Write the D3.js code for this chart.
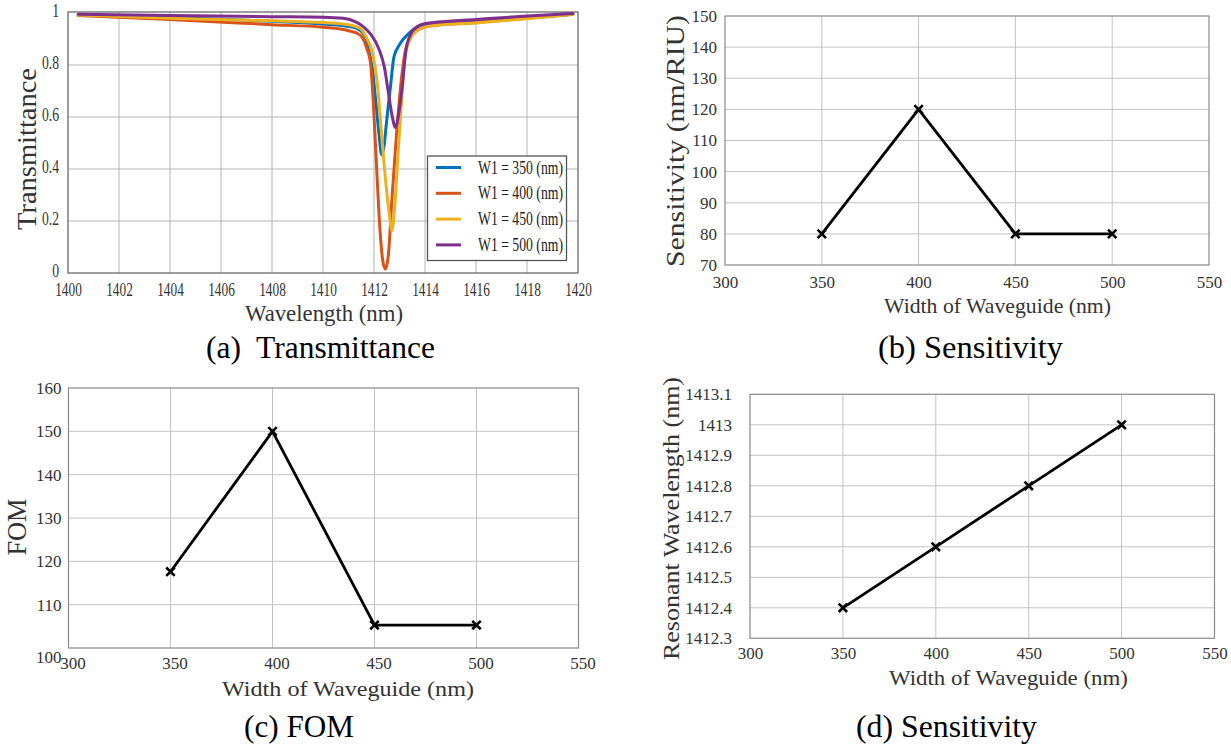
<!DOCTYPE html>
<html>
<head>
<meta charset="utf-8">
<script src="https://cdn.jsdelivr.net/npm/d3@7"></script>
<style>
  html, body { margin: 0; padding: 0; background: #fff; }
  svg, svg text { font-family: 'Liberation Serif', 'Times New Roman', Times, serif; }
</style>
</head>
<body>
<svg id="fig" width="1231" height="745"></svg>
<script>
const SERIF = "'Liberation Serif', 'Times New Roman', Times, serif";

// ---- (a) transmittance spectra ----
const wavelengthTicks = [1400, 1402, 1404, 1406, 1408, 1410, 1412, 1414, 1416, 1418, 1420];
const transTicks = [0, 0.2, 0.4, 0.6, 0.8, 1];
const seriesNames = ["W1 = 350 (nm)", "W1 = 400 (nm)", "W1 = 450 (nm)", "W1 = 500 (nm)"];
const seriesColors = ["#0072BD", "#D95319", "#EDB120", "#7E2F8E"];

const trans350 = [
  [1400.4, 0.992], [1404, 0.982], [1408, 0.968], [1410, 0.958], [1411.19, 0.945],
  [1411.59, 0.92], [1411.73, 0.877], [1411.93, 0.79], [1412.07, 0.66], [1412.2, 0.53],
  [1412.3, 0.455], [1412.41, 0.50], [1412.47, 0.56], [1412.65, 0.72], [1412.78, 0.83],
  [1413.01, 0.88], [1413.35, 0.92], [1413.82, 0.95], [1414.2, 0.955], [1416, 0.967],
  [1418, 0.982], [1419.8, 0.995]
];
const trans400 = [
  [1400.4, 0.99], [1404, 0.975], [1408, 0.955], [1410, 0.945], [1411, 0.932],
  [1411.46, 0.915], [1411.73, 0.86], [1411.86, 0.81], [1411.97, 0.66], [1412.07, 0.47],
  [1412.2, 0.22], [1412.34, 0.05], [1412.45, 0.015], [1412.57, 0.076], [1412.7, 0.28],
  [1412.88, 0.53], [1413.08, 0.75], [1413.22, 0.85], [1413.49, 0.915], [1413.82, 0.94],
  [1414.2, 0.95], [1416, 0.963], [1418, 0.98], [1419.8, 0.995]
];
const trans450 = [
  [1400.4, 0.992], [1404, 0.98], [1408, 0.97], [1410, 0.963], [1411, 0.955],
  [1411.46, 0.94], [1411.73, 0.90], [1411.93, 0.85], [1412.14, 0.72], [1412.3, 0.53],
  [1412.47, 0.34], [1412.61, 0.22], [1412.7, 0.163], [1412.81, 0.25], [1412.95, 0.47],
  [1413.08, 0.66], [1413.22, 0.83], [1413.42, 0.90], [1413.82, 0.94], [1414.2, 0.95],
  [1416, 0.962], [1418, 0.978], [1419.8, 0.995]
];
const trans500 = [
  [1400.4, 0.995], [1404, 0.99], [1408, 0.986], [1410, 0.984], [1410.8, 0.98],
  [1411.3, 0.965], [1411.59, 0.947], [1411.86, 0.92], [1412.2, 0.86], [1412.41, 0.79],
  [1412.57, 0.69], [1412.7, 0.61], [1412.84, 0.56], [1412.95, 0.60], [1413.11, 0.72],
  [1413.24, 0.85], [1413.42, 0.915], [1413.69, 0.947], [1414.03, 0.96], [1414.5, 0.965],
  [1416, 0.975], [1418, 0.988], [1419.8, 0.998]
];

// ---- (b)-(d) waveguide width sweeps ----
const widths = [350, 400, 450, 500];
const widthTicks = [300, 350, 400, 450, 500, 550];
const sensitivity = [80, 120, 80, 80];
const sensTicks = [70, 80, 90, 100, 110, 120, 130, 140, 150];
const fom = [117.6, 150, 105.3, 105.3];
const fomTicks = [100, 110, 120, 130, 140, 150, 160];
const resonance = [1412.4, 1412.6, 1412.8, 1413.0];
const resTicks = [1412.3, 1412.4, 1412.5, 1412.6, 1412.7, 1412.8, 1412.9, 1413.0, 1413.1];

const svg = d3.select("#fig");

// squeeze text horizontally to a given fraction of its natural width
function squeeze(sel, k) {
  sel.each(function () {
    const L = this.getComputedTextLength();
    d3.select(this).attr("textLength", L * k).attr("lengthAdjust", "spacingAndGlyphs");
  });
}
function fitWidth(sel, w) {
  sel.attr("textLength", w).attr("lengthAdjust", "spacingAndGlyphs");
}

// ================= panel (a) =================
(function () {
  const L = 68, R = 578, T = 12, B = 273;
  const x = d3.scaleLinear().domain([1400, 1420]).range([L, R]);
  const y = d3.scaleLinear().domain([0, 1]).range([B, T + 1]);
  const g = svg.append("g").attr("font-family", SERIF);

  // grid
  g.append("g").selectAll("line").data(wavelengthTicks.slice(1, -1)).join("line")
    .attr("x1", d => x(d)).attr("x2", d => x(d)).attr("y1", T).attr("y2", B)
    .attr("stroke", "#b4b4b4").attr("stroke-width", 1);
  g.append("g").selectAll("line").data(transTicks.slice(1, -1)).join("line")
    .attr("x1", L).attr("x2", R).attr("y1", d => y(d)).attr("y2", d => y(d))
    .attr("stroke", "#b4b4b4").attr("stroke-width", 1);

  // axes (labels only, frame drawn below)
  const xa = g.append("g").attr("transform", `translate(0,${B})`)
    .call(d3.axisBottom(x).tickValues(wavelengthTicks).tickSize(0).tickPadding(10).tickFormat(d3.format("d")));
  const ya = g.append("g").attr("transform", `translate(${L},0)`)
    .call(d3.axisLeft(y).tickValues(transTicks).tickSize(0).tickPadding(9).tickFormat(d => String(d)));
  [xa, ya].forEach(a => {
    a.attr("font-family", SERIF);
    a.select(".domain").remove();
    a.selectAll("text").attr("font-family", SERIF).attr("font-size", 18).attr("fill", "#333");
  });
  ya.selectAll("text").attr("dy", "0.2em");
  squeeze(xa.selectAll("text"), 0.74);
  squeeze(ya.selectAll("text"), 0.76);

  g.append("rect").attr("x", L).attr("y", T).attr("width", R - L).attr("height", B - T)
    .attr("fill", "none").attr("stroke", "#6a6a6a").attr("stroke-width", 1.3);

  // curves
  const line = d3.line().x(d => x(d[0])).y(d => y(d[1])).curve(d3.curveMonotoneX);
  const series = [trans350, trans400, trans450, trans500];
  g.append("g").selectAll("path").data(series).join("path")
    .attr("d", line).attr("fill", "none")
    .attr("stroke", (d, i) => seriesColors[i]).attr("stroke-width", 3)
    .attr("stroke-linejoin", "round").attr("stroke-linecap", "round");

  // legend
  const lg = g.append("g");
  lg.append("rect").attr("x", 427.5).attr("y", 156).attr("width", 139).attr("height", 104.5)
    .attr("fill", "#fff").attr("stroke", "#555").attr("stroke-width", 1.3);
  seriesNames.forEach((name, i) => {
    const yy = 167.5 + i * 25.8;
    lg.append("line").attr("x1", 436).attr("x2", 461).attr("y1", yy).attr("y2", yy)
      .attr("stroke", seriesColors[i]).attr("stroke-width", 3);
    lg.append("text").attr("x", 478).attr("y", yy).attr("dy", "0.34em")
      .attr("font-size", 18).attr("fill", "#222").text(name)
      .call(fitWidth, 85);
  });

  // titles
  g.append("text").attr("x", 324).attr("y", 321).attr("text-anchor", "middle")
    .attr("font-size", 24).attr("fill", "#333").text("Wavelength (nm)").call(fitWidth, 158);
  g.append("text").attr("transform", "translate(36,149) rotate(-90)").attr("text-anchor", "middle")
    .attr("font-size", 28).attr("fill", "#333").text("Transmittance").call(fitWidth, 162);
  g.append("text").attr("x", 206).attr("y", 358)
    .attr("font-size", 31).attr("fill", "#000").attr("xml:space", "preserve")
    .text("(a)  Transmittance").call(fitWidth, 229);
})();

// ================= panels (b)-(d) =================
function drawSweep(cfg) {
  const x = d3.scaleLinear().domain([300, 550]).range([cfg.L, cfg.R]);
  const y = d3.scaleLinear().domain(cfg.yDomain).range([cfg.B, cfg.T]);
  const g = svg.append("g").attr("font-family", SERIF);

  g.append("g").selectAll("line").data(widthTicks.slice(1, -1)).join("line")
    .attr("x1", d => x(d)).attr("x2", d => x(d)).attr("y1", cfg.T).attr("y2", cfg.B)
    .attr("stroke", "#c4c4c4").attr("stroke-width", 1);
  g.append("g").selectAll("line").data(cfg.yTicks.slice(1, -1)).join("line")
    .attr("x1", cfg.L).attr("x2", cfg.R).attr("y1", d => y(d)).attr("y2", d => y(d))
    .attr("stroke", "#c4c4c4").attr("stroke-width", 1);

  const xa = g.append("g").attr("transform", `translate(0,${cfg.B})`)
    .call(d3.axisBottom(x).tickValues(widthTicks).tickSize(0).tickPadding(cfg.xPad).tickFormat(d3.format("d")));
  const ya = g.append("g").attr("transform", `translate(${cfg.L},0)`)
    .call(d3.axisLeft(y).tickValues(cfg.yTicks).tickSize(0).tickPadding(cfg.yPad).tickFormat(d => String(d)));
  [xa, ya].forEach(a => {
    a.attr("font-family", SERIF);
    a.select(".domain").remove();
    a.selectAll("text").attr("font-family", SERIF).attr("font-size", 17).attr("fill", "#333");
  });
  ya.selectAll("text").attr("dy", "0.32em");
  if (cfg.xShift) xa.selectAll("text").attr("dx", cfg.xShift);
  if (cfg.lowLabelDrop) ya.selectAll(".tick").filter(d => d === cfg.yTicks[0]).select("text").attr("dy", cfg.lowLabelDrop);

  g.append("rect").attr("x", cfg.L).attr("y", cfg.T).attr("width", cfg.R - cfg.L).attr("height", cfg.B - cfg.T)
    .attr("fill", "none").attr("stroke", "#8a8a8a").attr("stroke-width", 1.2);

  const pts = widths.map((w, i) => [w, cfg.values[i]]);
  g.append("path").datum(pts)
    .attr("d", d3.line().x(d => x(d[0])).y(d => y(d[1])))
    .attr("fill", "none").attr("stroke", "#000").attr("stroke-width", 2.8).attr("stroke-linejoin", "round");
  const cross = d3.symbol().type(d3.symbolX).size(48);
  g.append("g").selectAll("path").data(pts).join("path")
    .attr("transform", d => `translate(${x(d[0])},${y(d[1])})`)
    .attr("d", cross).attr("fill", "none").attr("stroke", "#000").attr("stroke-width", 2.6);

  g.append("text").attr("x", cfg.xt[0]).attr("y", cfg.xt[1])
    .attr("font-size", 22).attr("fill", "#333").text("Width of Waveguide (nm)").call(fitWidth, cfg.xt[2]);
  g.append("text").attr("transform", `translate(${cfg.yt[0]},${cfg.yt[1]}) rotate(-90)`).attr("text-anchor", "middle")
    .attr("font-size", cfg.yt[3]).attr("fill", "#333")
    .text(cfg.yTitle).call(fitWidth, cfg.yt[2]);
  g.append("text").attr("x", cfg.cap[0]).attr("y", cfg.cap[1])
    .attr("font-size", 31).attr("fill", "#000").text(cfg.caption).call(fitWidth, cfg.cap[2]);
}

drawSweep({
  L: 725, R: 1209, T: 16, B: 265, yDomain: [70, 150], yTicks: sensTicks, values: sensitivity,
  xPad: 11, yPad: 8,
  xt: [884, 313, 227], yt: [684, 141, 252, 26], yTitle: "Sensitivity (nm/RIU)",
  cap: [878, 358, 185], caption: "(b) Sensitivity"
});
drawSweep({
  L: 68.5, R: 578.5, T: 388, B: 648, yDomain: [100, 160], yTicks: fomTicks, values: fom,
  xPad: 9, yPad: 7, xShift: 4, lowLabelDrop: "0.85em",
  xt: [222, 696, 252], yt: [26, 527, 57, 27], yTitle: "FOM",
  cap: [244, 737, 110], caption: "(c) FOM"
});
drawSweep({
  L: 750, R: 1214.5, T: 394.3, B: 638.3, yDomain: [1412.3, 1413.1], yTicks: resTicks, values: resonance,
  xPad: 9, yPad: 18,
  xt: [889, 685, 239], yt: [679, 518.5, 283, 24], yTitle: "Resonant Wavelength (nm)",
  cap: [856, 737, 181], caption: "(d) Sensitivity"
});
</script>
</body>
</html>
